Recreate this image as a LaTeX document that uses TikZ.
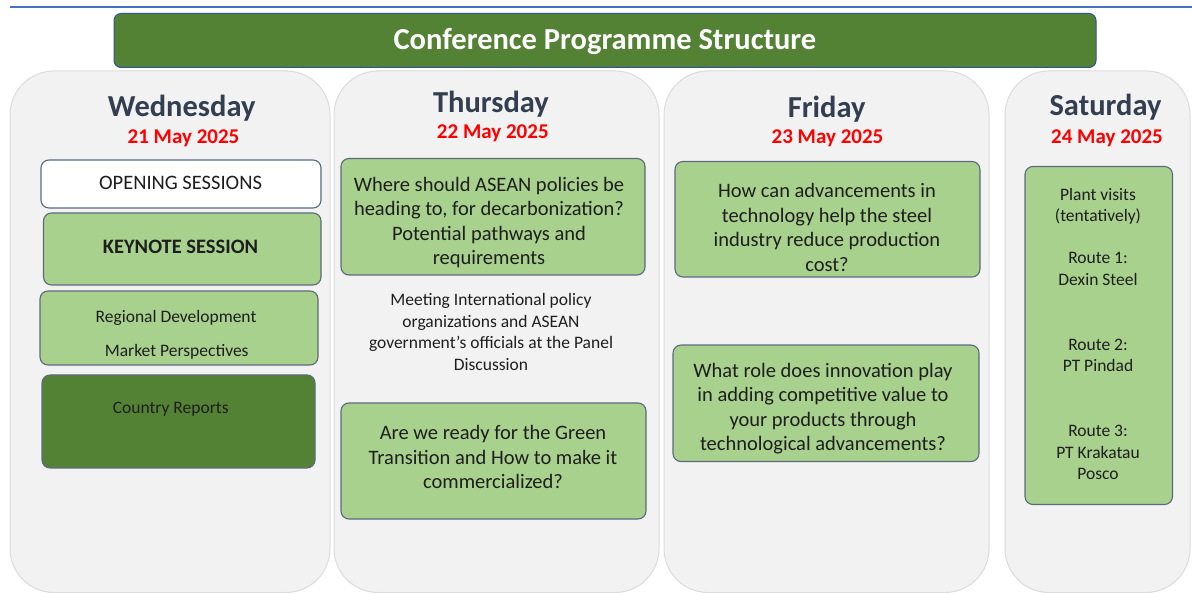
\documentclass[tikz,border=0pt]{standalone}
\usepackage{fontspec}
\setmainfont{Carlito}
\definecolor{topblue}{HTML}{4472C4}
\definecolor{titlegreen}{HTML}{548235}
\definecolor{titleedge}{HTML}{2F5597}
\definecolor{colfill}{HTML}{F2F2F2}
\definecolor{coledge}{HTML}{DCDCDC}
\definecolor{boxgreen}{HTML}{A9D18E}
\definecolor{boxedge}{HTML}{5C6A7C}
\definecolor{dayblue}{HTML}{333F50}
\definecolor{datered}{HTML}{FF0000}
\definecolor{darkgreen}{HTML}{548235}
\definecolor{bodytext}{HTML}{1E1E1E}
\tikzset{
  topline/.style={draw=topblue, line width=2pt},
  titlebar/.style={draw=titleedge, fill=titlegreen, line width=1pt, rounded corners=7pt, inner sep=0pt},
  titletext/.style={text=white, font=\fontsize{30.5}{36}\selectfont\bfseries, anchor=base, inner sep=0pt},
  column/.style={draw=coledge, fill=colfill, line width=1pt, rounded corners=44pt, inner sep=0pt},
  sessbox/.style={draw=boxedge, fill=boxgreen, line width=1.1pt, rounded corners=8pt, inner sep=0pt},
  daytitle/.style={text=dayblue, font=\fontsize{30.5}{36}\selectfont\bfseries, anchor=base, inner sep=0pt},
  datetext/.style={text=datered, font=\fontsize{21}{25}\selectfont\bfseries, anchor=base, inner sep=0pt},
  bigtext/.style={text=bodytext, font=\fontsize{20.5}{24.5}\selectfont, align=center, anchor=base, inner sep=0pt},
  smalltext/.style={text=bodytext, font=\fontsize{17.5}{21.7}\selectfont, align=center, anchor=base, inner sep=0pt},
}
\begin{document}
\begin{tikzpicture}[x=1pt,y=-1pt]
\useasboundingbox (0,0) rectangle (1192,593);
\fill[white] (0,0) rectangle (1192,593);
% top rule
\coordinate (tl1) at (10,7.3);
\coordinate (tl2) at (1192,7.3);
\draw[topline] (tl1) -- (tl2);
% day columns
\node[column, minimum width=320pt, minimum height=521.5pt] (wedcol) at (170,331.75) {};
\node[column, minimum width=325pt, minimum height=521.5pt] (thucol) at (496.5,331.75) {};
\node[column, minimum width=325pt, minimum height=521.5pt] (fricol) at (826.5,331.75) {};
\node[column, minimum width=185pt, minimum height=521.5pt] (satcol) at (1097.5,331.75) {};
% title
\node[titlebar, minimum width=982pt, minimum height=54pt] (titlebar) at (605,40.5) {};
\node[titletext] (titletxt) at (605,50) {Conference Programme Structure};
% headers
\node[daytitle] (wedhead) at (181.7,116.5) {Wednesday};
\node[datetext] (weddate) at (183.5,144) {21 May 2025};
\node[daytitle] (thuhead) at (491,112.7) {Thursday};
\node[datetext] (thudate) at (492.8,139) {22 May 2025};
\node[daytitle] (frihead) at (826.7,117.2) {Friday};
\node[datetext] (fridate) at (827.5,144) {23 May 2025};
\node[daytitle] (sathead) at (1105.5,116) {Saturday};
\node[datetext] (satdate) at (1107,144) {24 May 2025};
% Wednesday
\node[sessbox, fill=white, minimum width=280pt, minimum height=48pt] (opening) at (181,184) {};
\node[bigtext] (openingtxt) at (180.5,190) {OPENING SESSIONS};
\node[sessbox, minimum width=277.5pt, minimum height=72pt] (keynote) at (182.25,249) {};
\node[bigtext, font=\fontsize{20.5}{24}\selectfont\bfseries] (keynotetxt) at (180.5,254) {KEYNOTE SESSION};
\node[sessbox, minimum width=278pt, minimum height=74pt] (regional) at (179,328) {};
\node[smalltext] (regtxt1) at (176,322.5) {Regional Development};
\node[smalltext] (regtxt2) at (176.7,357) {Market Perspectives};
\node[sessbox, fill=darkgreen, minimum width=273pt, minimum height=93pt] (country) at (178.5,421.5) {};
\node[smalltext] (countrytxt) at (170.7,414) {Country Reports};
% Thursday
\node[sessbox, minimum width=304pt, minimum height=116.5pt] (thu1) at (493,216.75) {};
\node[bigtext] (thu1txt) at (489,265) {Where should ASEAN policies be\\heading to, for decarbonization?\\Potential pathways and\\requirements};
\node[smalltext] (thupanel) at (491,370.5) {Meeting International policy\\organizations and ASEAN\\government’s officials at the Panel\\Discussion};
\node[sessbox, minimum width=305pt, minimum height=116pt] (thu2) at (493.5,461) {};
\node[bigtext] (thu2txt) at (493,488.5) {Are we ready for the Green\\Transition and How to make it\\commercialized?};
% Friday
\node[sessbox, minimum width=305pt, minimum height=115.5pt] (fri1) at (827.5,219.25) {};
\node[bigtext] (fri1txt) at (827,271.2) {How can advancements in\\technology help the steel\\industry reduce production\\cost?};
\node[sessbox, minimum width=306pt, minimum height=116.5pt] (fri2) at (826,403.3) {};
\node[bigtext] (fri2txt) at (823,450.5) {What role does innovation play\\in adding competitive value to\\your products through\\technological advancements?};
% Saturday
\node[sessbox, minimum width=147.5pt, minimum height=338pt] (satbox) at (1098.75,335.5) {};
\node[smalltext] (sat1) at (1098,222) {Plant visits\\(tentatively)};
\node[smalltext] (sat2) at (1098,285.5) {Route 1:\\Dexin Steel};
\node[smalltext] (sat3) at (1098,372) {Route 2:\\PT Pindad};
\node[smalltext] (sat4) at (1098,480) {Route 3:\\PT Krakatau\\Posco};
\end{tikzpicture}
\end{document}
